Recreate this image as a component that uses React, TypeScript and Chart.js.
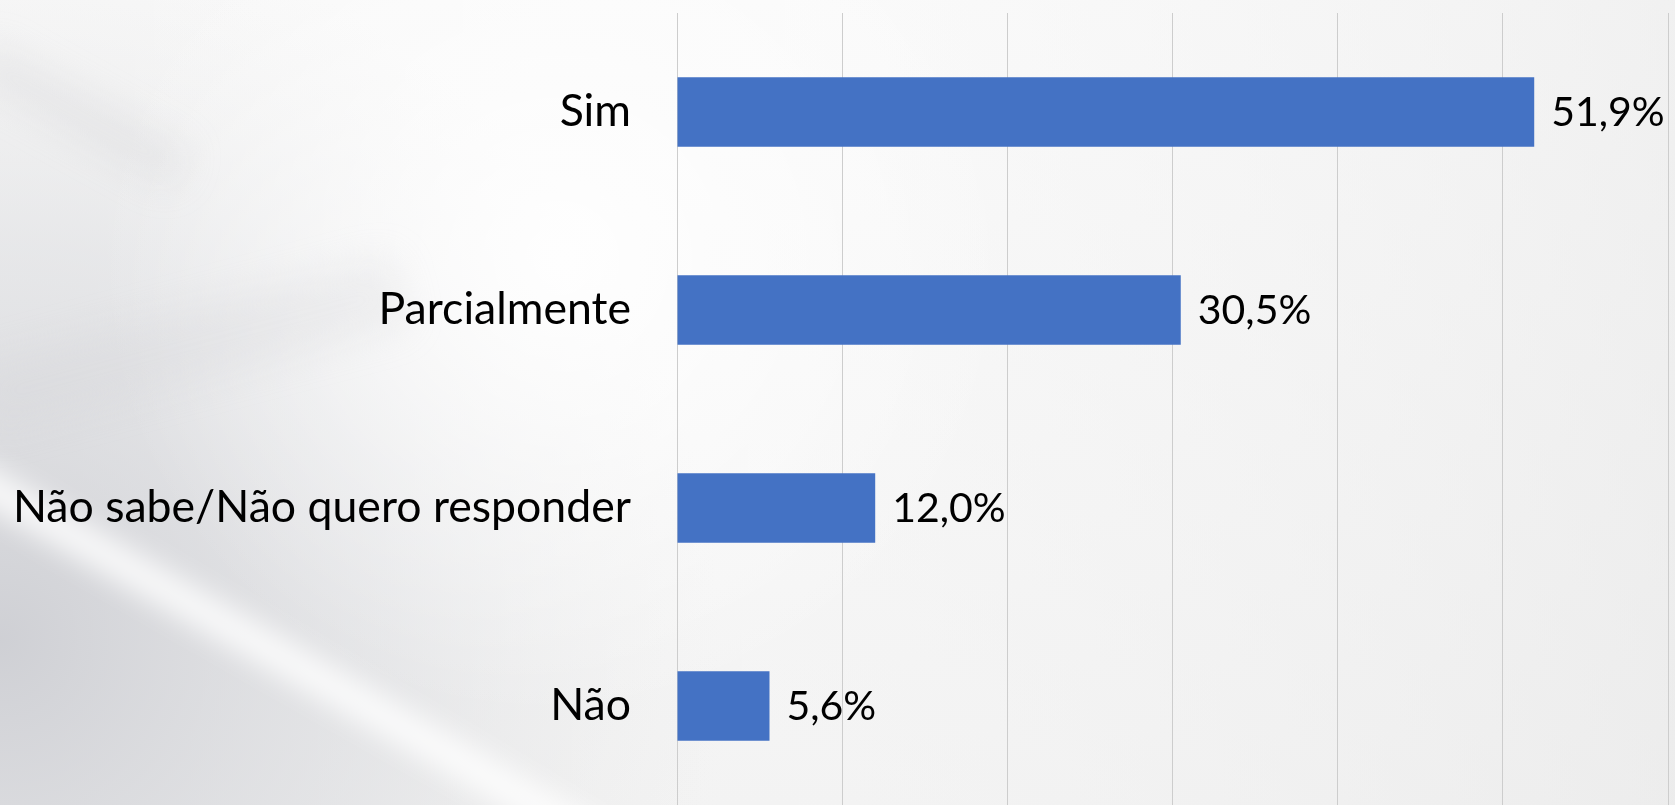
import React, { useEffect, useRef } from "react";
import { Chart, registerables } from "chart.js";

Chart.register(...registerables);

const categories = ["Sim", "Parcialmente", "Não sabe/Não quero responder", "Não"];
const values = [51.9, 30.5, 12.0, 5.6];
const xTicks = [0, 10, 20, 30, 40, 50, 60];

const FONT = "Lato, 'Open Sans', sans-serif";

const background = {
  id: "bgPaint",
  beforeDraw(chart: any) {
    const ctx = chart.ctx;
    const w = chart.width;
    const h = chart.height;
    ctx.save();
    const base = ctx.createLinearGradient(0, 0, 0, h);
    base.addColorStop(0, "#f8f8f8");
    base.addColorStop(1, "#ededed");
    ctx.fillStyle = base;
    ctx.fillRect(0, 0, w, h);
    const right = ctx.createLinearGradient(0, 0, w, 0);
    right.addColorStop(0, "rgba(255,255,255,0)");
    right.addColorStop(0.45, "rgba(255,255,255,0.35)");
    right.addColorStop(1, "rgba(236,236,236,0.6)");
    ctx.fillStyle = right;
    ctx.fillRect(0, 0, w, h);
    const g1 = ctx.createRadialGradient(0, 640, 0, 0, 640, 720);
    g1.addColorStop(0, "rgba(205,206,211,0.95)");
    g1.addColorStop(0.55, "rgba(222,223,226,0.6)");
    g1.addColorStop(1, "rgba(235,235,235,0)");
    ctx.fillStyle = g1;
    ctx.fillRect(0, 0, w, h);
    const g2 = ctx.createRadialGradient(560, 260, 0, 560, 260, 460);
    g2.addColorStop(0, "rgba(255,255,255,0.9)");
    g2.addColorStop(1, "rgba(255,255,255,0)");
    ctx.fillStyle = g2;
    ctx.fillRect(0, 0, w, h);
    ctx.filter = "blur(14px)";
    ctx.strokeStyle = "rgba(255,255,255,0.85)";
    ctx.lineWidth = 34;
    ctx.beginPath();
    ctx.moveTo(-40, 470);
    ctx.lineTo(700, 900);
    ctx.stroke();
    ctx.filter = "blur(18px)";
    ctx.strokeStyle = "rgba(205,205,209,0.25)";
    ctx.lineWidth = 40;
    ctx.beginPath();
    ctx.moveTo(-20, 60);
    ctx.lineTo(180, 170);
    ctx.stroke();
    ctx.strokeStyle = "rgba(210,210,214,0.25)";
    ctx.lineWidth = 70;
    ctx.beginPath();
    ctx.moveTo(-20, 400);
    ctx.lineTo(400, 290);
    ctx.stroke();
    ctx.restore();
  },
};

const valueLabels = {
  id: "valueLabels",
  afterDatasetsDraw(chart: any) {
    const ctx = chart.ctx;
    const meta = chart.getDatasetMeta(0);
    ctx.save();
    ctx.font = `41px ${FONT}`;
    ctx.fillStyle = "#000000";
    ctx.textAlign = "left";
    ctx.textBaseline = "middle";
    meta.data.forEach((bar: any, i: number) => {
      const v = values[i];
      const txt = v.toFixed(1).replace(".", ",") + "%";
      ctx.fillText(txt, bar.x + 17, bar.y + 1);
    });
    ctx.restore();
  },
};

export default function App() {
  const ref = useRef<HTMLCanvasElement | null>(null);

  useEffect(() => {
    if (!ref.current) return;
    const chart = new Chart(ref.current, {
      type: "bar",
      data: {
        labels: categories,
        datasets: [
          {
            data: values,
            backgroundColor: "#4472C4",
            borderWidth: 0,
            barPercentage: 0.352,
            categoryPercentage: 1,
          },
        ],
      },
      options: {
        indexAxis: "y",
        animation: false,
        responsive: true,
        maintainAspectRatio: false,
        layout: { padding: { top: 13, right: 7, bottom: 0, left: 0 } },
        plugins: {
          legend: { display: false },
          tooltip: { enabled: false },
          title: { display: false },
        },
        scales: {
          x: {
            min: xTicks[0],
            max: xTicks[xTicks.length - 1],
            afterBuildTicks: (scale: any) => {
              scale.ticks = xTicks.map((v) => ({ value: v }));
            },
            afterFit: (scale: any) => {
              scale.height = 0;
              scale.paddingLeft = 0;
              scale.paddingRight = 0;
            },
            ticks: { display: false },
            grid: { color: "#cdcdcd", lineWidth: 1, drawTicks: false },
            border: { display: false },
          },
          y: {
            afterFit: (scale: any) => {
              scale.width = 677;
              scale.paddingTop = 0;
              scale.paddingBottom = 0;
            },
            ticks: {
              color: "#000000",
              font: { family: FONT, size: 44.6 },
              padding: 46,
              autoSkip: false,
            },
            grid: { display: false, drawTicks: false },
            border: { display: false },
          },
        },
      },
      plugins: [background, valueLabels],
    });
    return () => chart.destroy();
  }, []);

  return (
    <div
      style={{
        position: "absolute",
        left: 0,
        top: 0,
        width: 1675,
        height: 805,
      }}
    >
      <canvas ref={ref} />
    </div>
  );
}
